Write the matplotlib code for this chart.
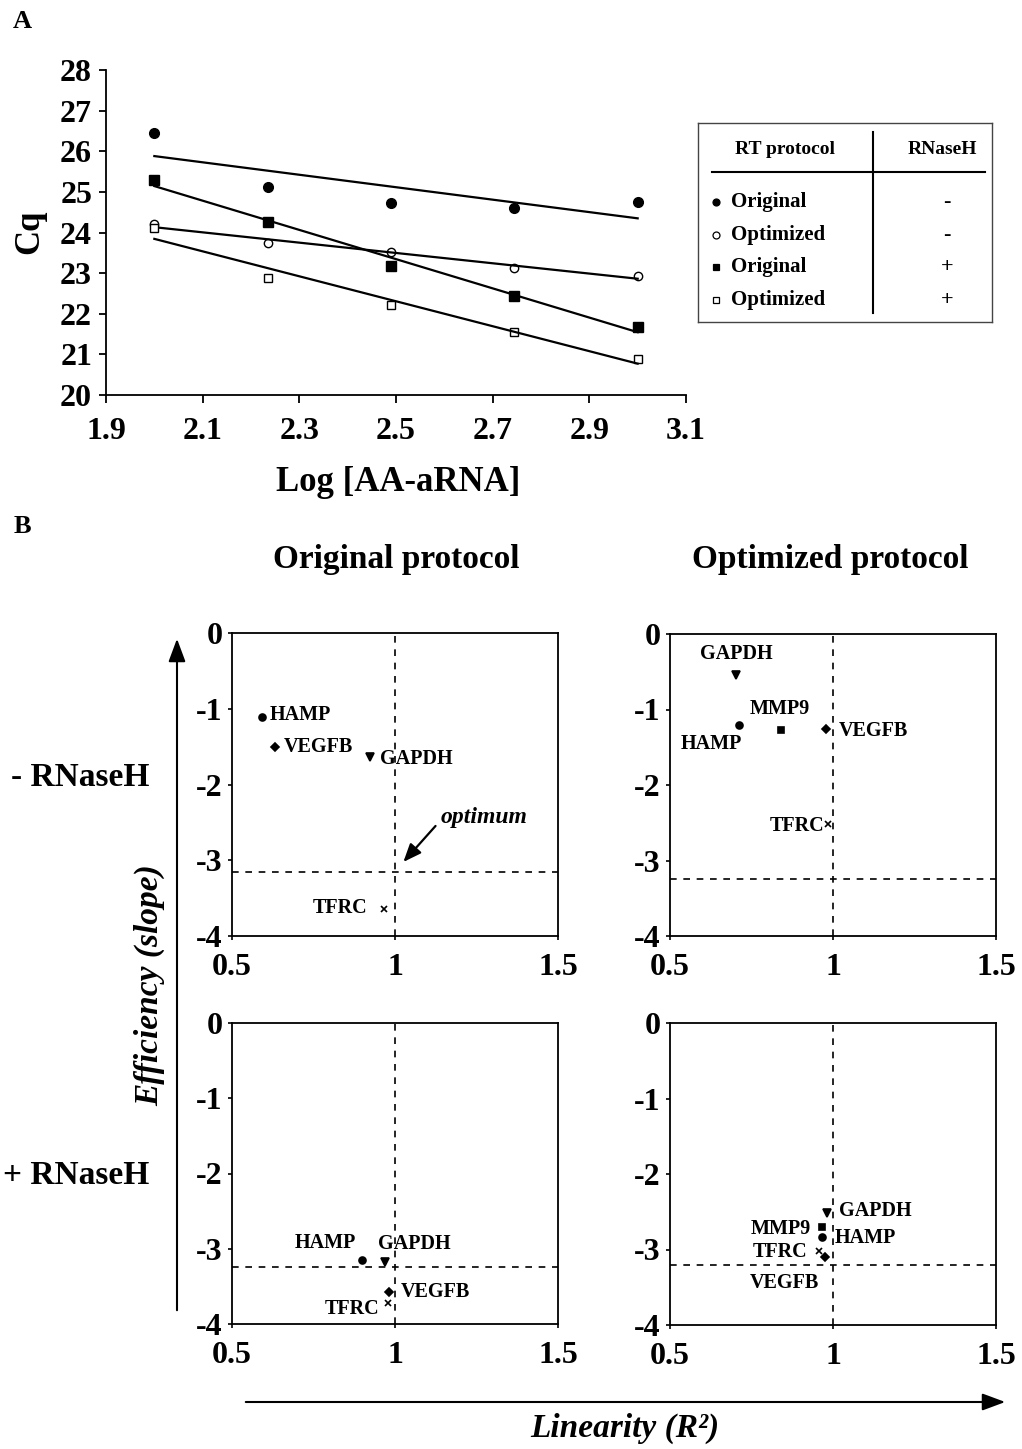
import numpy as np
import matplotlib
matplotlib.use("Agg")
import matplotlib.pyplot as plt

plt.rcParams["font.family"] = ["Liberation Serif", "DejaVu Serif"]
plt.rcParams["font.weight"] = "bold"
plt.rcParams["axes.linewidth"] = 1.3

# Panel A : Cq vs log [AA-aRNA]
log_aa = [2.0, 2.235, 2.49, 2.745, 3.0]
cq_orig_minus = [26.44, 25.11, 24.72, 24.60, 24.75]
cq_opt_minus = [24.20, 23.75, 23.53, 23.12, 22.92]
cq_orig_plus = [25.29, 24.25, 23.18, 22.43, 21.68]
cq_opt_plus = [24.10, 22.87, 22.21, 21.56, 20.89]

legend_protocol = ["Original", "Optimized", "Original", "Optimized"]
legend_rnaseh = ["-", "-", "+", "+"]

# Panel B : efficiency (slope) vs linearity (R2)
genes_orig = ["HAMP", "VEGFB", "GAPDH", "TFRC"]
genes_opt = ["HAMP", "VEGFB", "GAPDH", "TFRC", "MMP9"]
orig_minus_r2 = [0.592, 0.633, 0.924, 0.965]
orig_minus_slope = [-1.115, -1.51, -1.64, -3.64]
opt_minus_r2 = [0.712, 0.980, 0.701, 0.986, 0.839]
opt_minus_slope = [-1.21, -1.26, -0.54, -2.51, -1.27]
orig_plus_r2 = [0.899, 0.983, 0.970, 0.977]
orig_plus_slope = [-3.15, -3.58, -3.17, -3.72]
opt_plus_r2 = [0.967, 0.975, 0.981, 0.958, 0.967]
opt_plus_slope = [-2.84, -3.10, -2.52, -3.02, -2.70]
optimum_slope = [-3.16, -3.24, -3.24, -3.21]

W, H = 1022, 1449
fig = plt.figure(figsize=(W / 100, H / 100), dpi=100)


def box(l, t, r, b):
    return [l / W, 1 - b / H, (r - l) / W, (b - t) / H]


# ---------- A ----------
axA = fig.add_axes(box(106, 70, 686, 395))
series = [
    (cq_orig_minus, "o", "black", 7),
    (cq_opt_minus, "o", "white", 6),
    (cq_orig_plus, "s", "black", 6.5),
    (cq_opt_plus, "s", "white", 6),
]
x = np.array(log_aa)
for cq, mk, fc, ms in series:
    axA.plot(x, cq, linestyle="none", marker=mk, mfc=fc, mec="black", ms=ms, mew=1)
    m, b = np.polyfit(x, cq, 1)
    axA.plot(x[[0, -1]], m * x[[0, -1]] + b, color="black", lw=1.6)
axA.set_xlim(1.9, 3.1)
axA.set_ylim(20, 28)
axA.set_xticks(np.arange(1.9, 3.11, 0.2))
axA.set_xticklabels([f"{v:.1f}" for v in np.arange(1.9, 3.11, 0.2)])
axA.set_yticks(range(20, 29))
axA.spines["top"].set_visible(False)
axA.spines["right"].set_visible(False)
axA.tick_params(axis="x", direction="out", length=6, width=1.3, pad=10, labelsize=23)
axA.tick_params(axis="y", direction="out", length=5, width=1.3, pad=5, labelsize=23)
fig.text(30 / W, 1 - 232 / H, "Cq", rotation=90, ha="center", va="center", fontsize=25)
fig.text(398 / W, 1 - 483 / H, "Log [AA-aRNA]", ha="center", va="center", fontsize=25)
fig.text(22 / W, 1 - 22 / H, "A", ha="center", va="center", fontsize=19)

# legend table
axL = fig.add_axes(box(698, 123, 992, 322))
axL.set_xlim(698, 992)
axL.set_ylim(322, 123)
axL.set_xticks([])
axL.set_yticks([])
for s in axL.spines.values():
    s.set_linewidth(1.0)
    s.set_color("#444444")
axL.plot([712, 985], [172, 172], color="black", lw=1.5)
axL.plot([873, 873], [132, 313], color="black", lw=1.5)
axL.text(785, 150, "RT protocol", ha="center", va="center", fontsize=14)
axL.text(942, 150, "RNaseH", ha="center", va="center", fontsize=14)
row_y = [202, 235, 267, 300]
for (cq, mk, fc, ms), lab, sign, yy in zip(series, legend_protocol, legend_rnaseh, row_y):
    axL.plot([716], [yy], marker=mk, mfc=fc, mec="black", ms=5, mew=0.9)
    axL.text(731, yy, lab, ha="left", va="center", fontsize=15)
    axL.text(947, yy, sign, ha="center", va="center", fontsize=16)

# ---------- B ----------
fig.text(22 / W, 1 - 527 / H, "B", ha="center", va="center", fontsize=19)
fig.text(396 / W, 1 - 560 / H, "Original protocol", ha="center", va="center", fontsize=24)
fig.text(830 / W, 1 - 560 / H, "Optimized protocol", ha="center", va="center", fontsize=24)
fig.text(80 / W, 1 - 778 / H, "- RNaseH", ha="center", va="center", fontsize=24)
fig.text(76 / W, 1 - 1175 / H, "+ RNaseH", ha="center", va="center", fontsize=24)
fig.text(150 / W, 1 - 985 / H, "Efficiency (slope)", rotation=90, ha="center", va="center",
         fontsize=24, style="italic")
fig.text(625 / W, 1 - 1428 / H, "Linearity (R²)", ha="center", va="center",
         fontsize=24, style="italic")

# axis arrows
fig.add_artist(matplotlib.patches.FancyArrowPatch(
    (177 / W, 1 - 1313 / H), (177 / W, 1 - 636 / H), transform=fig.transFigure,
    arrowstyle="-|>,head_length=7,head_width=2.6", mutation_scale=2, color="black", lw=1.5))
fig.add_artist(matplotlib.patches.FancyArrowPatch(
    (243 / W, 1 - 1402 / H), (1008 / W, 1 - 1402 / H), transform=fig.transFigure,
    arrowstyle="-|>,head_length=7,head_width=2.6", mutation_scale=2, color="black", lw=1.5))

markers = {"HAMP": ("o", 5), "VEGFB": ("D", 4), "GAPDH": ("v", 6), "TFRC": ("x", 5), "MMP9": ("s", 5)}

panels = [
    (box(232, 633, 558, 936), genes_orig, orig_minus_r2, orig_minus_slope, optimum_slope[0],
     {"HAMP": (8, 2, "left"), "VEGFB": (8, 0, "left"), "GAPDH": (10, -2, "left"),
      "TFRC": (-16, 1, "right")}),
    (box(670, 634, 996, 936), genes_opt, opt_minus_r2, opt_minus_slope, optimum_slope[1],
     {"GAPDH": (1, 21, "center"), "HAMP": (-28, -19, "center"), "MMP9": (-1, 21, "center"),
      "VEGFB": (12, -2, "left"), "TFRC": (-4, -2, "right")}),
    (box(232, 1023, 558, 1324), genes_orig, orig_plus_r2, orig_plus_slope, optimum_slope[2],
     {"HAMP": (-37, 17, "center"), "GAPDH": (-7, 18, "left"), "VEGFB": (11, 0, "left"),
      "TFRC": (-8, -6, "right")}),
    (box(670, 1023, 996, 1325), genes_opt, opt_plus_r2, opt_plus_slope, optimum_slope[3],
     {"GAPDH": (12, 2, "left"), "MMP9": (-11, -2, "right"), "HAMP": (12, -1, "left"),
      "TFRC": (-12, -1, "right"), "VEGFB": (-40, -26, "center")}),
]

for i, (pos, genes, r2, slope, opt, offs) in enumerate(panels):
    ax = fig.add_axes(pos)
    ax.set_xlim(0.5, 1.5)
    ax.set_ylim(-4, 0)
    ax.axvline(1, color="black", lw=1.2, ls=(0, (4, 4)))
    ax.axhline(opt, color="black", lw=1.2, ls=(0, (4, 4)))
    for g, xv, yv in zip(genes, r2, slope):
        mk, ms = markers[g]
        ax.plot([xv], [yv], marker=mk, color="black", ms=ms, mew=1.2, linestyle="none")
        dx, dy, ha = offs[g]
        ax.annotate(g, (xv, yv), xytext=(dx, dy), textcoords="offset pixels",
                    ha=ha, va="center", fontsize=14.5)
    ax.set_xticks([0.5, 1, 1.5])
    ax.set_xticklabels(["0.5", "1", "1.5"])
    ax.set_yticks([0, -1, -2, -3, -4])
    ax.set_yticklabels(["0", "-1", "-2", "-3", "-4"])
    ax.tick_params(axis="both", direction="out", length=3, width=1.2, labelsize=23)
    ax.tick_params(axis="x", pad=9)
    ax.tick_params(axis="y", pad=4)
    if i == 0:
        ax.annotate("", xy=(1.02, -3.05), xytext=(1.13, -2.52),
                    arrowprops=dict(arrowstyle="-|>,head_length=1.1,head_width=0.45",
                                    color="black", lw=1.6))
        ax.text(1.14, -2.43, "optimum", ha="left", va="center", fontsize=17, style="italic")

fig.savefig("out.png", dpi=100)
